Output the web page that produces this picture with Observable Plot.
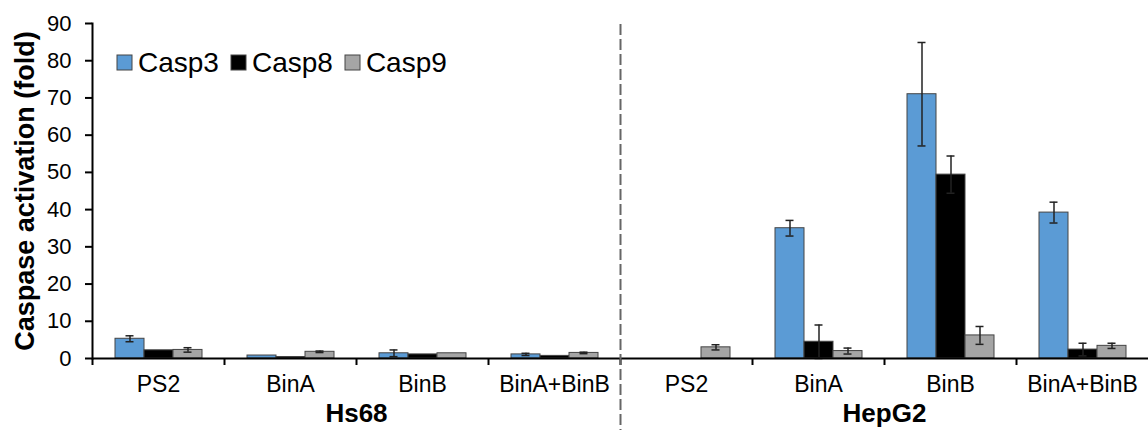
<!DOCTYPE html>
<html>
<head>
<meta charset="utf-8">
<script src="https://cdn.jsdelivr.net/npm/d3@7"></script>
<script src="https://cdn.jsdelivr.net/npm/@observablehq/plot@0.6"></script>
<style>
  html, body { margin: 0; padding: 0; background: #fff; }
  #wrap { position: relative; width: 1148px; height: 430px; font-family: "Liberation Sans", Arial, sans-serif; }
  #legend { position: absolute; left: 117px; top: 46px; }
  #legend span { margin-right: 12px !important; }
  #legend span > svg { margin-right: 6px !important; stroke: #444; stroke-width: 1px; }
</style>
</head>
<body>
<div id="wrap"><div id="chart"></div><div id="legend"></div></div>
<script>
// ---- data ----
const cellLines = ["Hs68", "HepG2"];
const treatments = ["PS2", "BinA", "BinB", "BinA+BinB"];
const series = ["Casp3", "Casp8", "Casp9"];
const seriesColors = ["#5B9BD5", "#000000", "#A5A5A5"];
const yTicks = [0, 10, 20, 30, 40, 50, 60, 70, 80, 90];

// mean values per treatment (PS2, BinA, BinB, BinA+BinB)
const hs68Casp3 = [5.3, 0.8, 1.4, 1.1];
const hs68Casp8 = [2.2, 0.4, 1.1, 0.7];
const hs68Casp9 = [2.3, 1.8, 1.4, 1.5];
const hepg2Casp3 = [0, 35.0, 71.0, 39.2];
const hepg2Casp8 = [0, 4.5, 49.4, 2.4];
const hepg2Casp9 = [3.0, 2.0, 6.2, 3.4];

// error (± deviation)
const hs68Casp3Err = [0.8, 0, 0.9, 0.3];
const hs68Casp8Err = [0, 0, 0, 0];
const hs68Casp9Err = [0.6, 0.2, 0, 0.2];
const hepg2Casp3Err = [0, 2.1, 13.9, 2.8];
const hepg2Casp8Err = [0, 4.5, 5.0, 1.7];
const hepg2Casp9Err = [0.7, 0.8, 2.4, 0.7];

// ---- build table ----
const values = {
  Hs68: {Casp3: hs68Casp3, Casp8: hs68Casp8, Casp9: hs68Casp9},
  HepG2: {Casp3: hepg2Casp3, Casp8: hepg2Casp8, Casp9: hepg2Casp9}
};
const errors = {
  Hs68: {Casp3: hs68Casp3Err, Casp8: hs68Casp8Err, Casp9: hs68Casp9Err},
  HepG2: {Casp3: hepg2Casp3Err, Casp8: hepg2Casp8Err, Casp9: hepg2Casp9Err}
};
const fxDomain = cellLines.flatMap(c => treatments.map(t => c + "|" + t));
const rows = [];
for (const c of cellLines) {
  treatments.forEach((t, i) => {
    for (const s of series) {
      rows.push({fx: c + "|" + t, series: s, value: values[c][s][i], err: errors[c][s][i]});
    }
  });
}
const barRows = rows.filter(d => d.value > 0);
const errRows = rows.filter(d => d.err > 0);
const groupLabels = [
  {fx: "Hs68|BinB", name: "Hs68"},
  {fx: "HepG2|BinB", name: "HepG2"}
];

// ---- layout ----
const W = 1148, H = 430, ML = 92, MR = 0, MT = 23, MB = 72;
const bw = (W - ML - MR) / fxDomain.length;
const font = "'Liberation Sans', Arial, sans-serif";

const chart = Plot.plot({
  width: W,
  height: H,
  marginLeft: ML,
  marginRight: MR,
  marginTop: MT,
  marginBottom: MB,
  style: {fontFamily: font, color: "#000", background: "#fff", overflow: "visible"},
  fx: {domain: fxDomain, padding: 0, axis: null, label: null},
  x: {domain: series, paddingInner: 0, paddingOuter: 0.7, axis: null},
  y: {domain: [0, 90], axis: null},
  color: {domain: series, range: seriesColors},
  marks: [
    Plot.barY(barRows, {fx: "fx", x: "series", y: "value", fill: "series", stroke: "#444", strokeWidth: 1}),
    Plot.ruleX(errRows, {fx: "fx", x: "series", y1: d => Math.max(0, d.value - d.err), y2: d => d.value + d.err, stroke: "#222", strokeWidth: 1.5}),
    Plot.tickY(errRows, {fx: "fx", x: "series", y: d => Math.max(0, d.value - d.err), stroke: "#222", strokeWidth: 1.5, insetLeft: 10.5, insetRight: 10.5}),
    Plot.tickY(errRows, {fx: "fx", x: "series", y: d => d.value + d.err, stroke: "#222", strokeWidth: 1.5, insetLeft: 10.5, insetRight: 10.5}),
    Plot.ruleY([0], {stroke: "#000", strokeWidth: 2}),
    Plot.frame({anchor: "left", facetAnchor: "left", stroke: "#000", strokeWidth: 2}),
    Plot.axisY({ticks: yTicks, tickSize: 7, tickPadding: 14, fontSize: 22, label: null, strokeWidth: 2}),
    Plot.axisFx({anchor: "bottom", tickSize: 0, tickPadding: 17, fontSize: 23, tickFormat: d => d.split("|")[1], label: null}),
    Plot.axisFx({anchor: "bottom", tickSize: 7, tickFormat: () => "", dx: -bw / 2, strokeWidth: 2, label: null}),
    Plot.axisFx({anchor: "top", ticks: [fxDomain[4]], tickSize: -(H - MT), tickFormat: () => "", dx: -bw / 2, stroke: "#666", strokeWidth: 2, strokeDasharray: "11,4", label: null}),
    Plot.text(groupLabels, {fx: "fx", text: "name", frameAnchor: "bottom-left", textAnchor: "middle", lineAnchor: "middle", dy: 55, fontSize: 26, fontWeight: "bold"}),
    Plot.text([{fx: fxDomain[0], label: "Caspase activation (fold)"}], {fx: "fx", text: "label", frameAnchor: "left", rotate: -90, textAnchor: "middle", lineAnchor: "middle", dx: -67, fontSize: 27, fontWeight: "bold"})
  ]
});
document.getElementById("chart").appendChild(chart);

const legend = Plot.legend({
  color: {type: "ordinal", domain: series, range: seriesColors},
  swatchSize: 15,
  style: {fontFamily: font, fontSize: "28px", color: "#000"}
});
document.getElementById("legend").appendChild(legend);
</script>
</body>
</html>
